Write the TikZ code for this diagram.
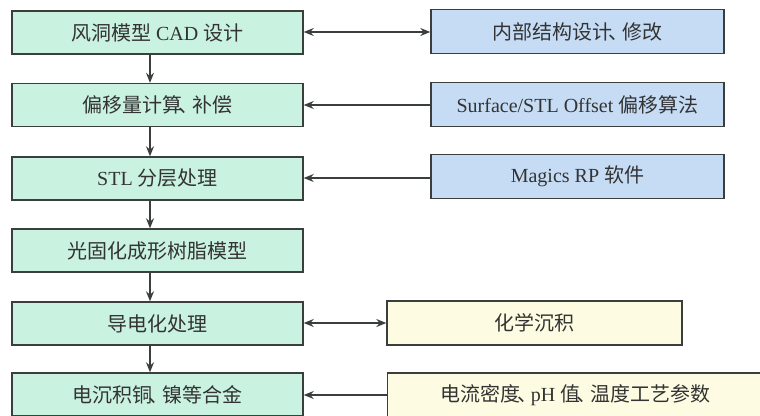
\documentclass[tikz,border=0pt]{standalone}
\usepackage{fontspec}
\setmainfont{Liberation Serif}
\newfontfamily\cjk{Noto Sans CJK SC}
\usetikzlibrary{arrows.meta}
\definecolor{gfill}{HTML}{C9F2E0}
\definecolor{bfill}{HTML}{C6DCF5}
\definecolor{yfill}{HTML}{FDFCE2}
\definecolor{edge}{HTML}{3A3F3E}
\newcommand{\dunhao}{\kern-0.2em、\kern-0.3em}
\tikzset{
  lbox/.style={draw=edge, line width=1.4pt, fill=gfill, minimum width=291pt, minimum height=43pt, inner sep=0pt, font=\fontsize{20}{23}\selectfont, text=black!80},
  bbox/.style={lbox, fill=bfill, minimum width=293pt, minimum height=44pt},
  ybox/.style={lbox, fill=yfill, minimum width=295pt, minimum height=44pt},
  conn/.style={draw=edge, line width=1.3pt, -{Stealth[length=10pt,width=8pt]}},
  biconn/.style={draw=edge, line width=1.3pt, {Stealth[length=10pt,width=8pt]}-{Stealth[length=10pt,width=8pt]}}
}
\begin{document}
\begin{tikzpicture}[x=1pt,y=-1pt]
\useasboundingbox (0,0) rectangle (760,415);
\clip (0,0) rectangle (760,415);
\fill[white] (0,0) rectangle (760,415);
\node[lbox] (L1) at (157.5,32.5) {\cjk 风洞模型 \rmfamily CAD \cjk 设计};
\node[lbox] (L2) at (157.5,105) {\cjk 偏移量计算\dunhao 补偿};
\node[lbox] (L3) at (157.5,178.5) {STL \cjk 分层处理};
\node[lbox] (L4) at (157.5,250.5) {\cjk 光固化成形树脂模型};
\node[lbox] (L5) at (157.5,323.5) {\cjk 导电化处理};
\node[lbox] (L6) at (157.5,394.5) {\cjk 电沉积铜\dunhao 镍等合金};
\node[bbox] (R1) at (577.5,31.5) {\cjk 内部结构设计\dunhao 修改};
\node[bbox] (R2) at (577.5,104.5) {Surface/STL Offset \cjk 偏移算法};
\node[bbox] (R3) at (577.5,176.5) {Magics RP \cjk 软件};
\node[ybox] (Y1) at (534.5,323) {\cjk 化学沉积};
\node[ybox, minimum width=376pt, anchor=west] (Y2) at (387,395) {\cjk 电流密度\dunhao \rmfamily pH \cjk 值\dunhao 温度工艺参数};
\draw[conn] (L1.south -| 150,0) -- (L2.north -| 150,0);
\draw[conn] (L2.south -| 150,0) -- (L3.north -| 150,0);
\draw[conn] (L3.south -| 150,0) -- (L4.north -| 150,0);
\draw[conn] (L4.south -| 150,0) -- (L5.north -| 150,0);
\draw[conn] (L5.south -| 150,0) -- (L6.north -| 150,0);
\draw[biconn] (L1.east |- 0,32) -- (R1.west |- 0,32);
\draw[conn] (R2.west |- 0,105) -- (L2.east |- 0,105);
\draw[conn] (R3.west |- 0,178) -- (L3.east |- 0,178);
\draw[biconn] (L5.east |- 0,323) -- (Y1.west |- 0,323);
\draw[conn] (Y2.west |- 0,395) -- (L6.east |- 0,395);
\end{tikzpicture}
\end{document}
